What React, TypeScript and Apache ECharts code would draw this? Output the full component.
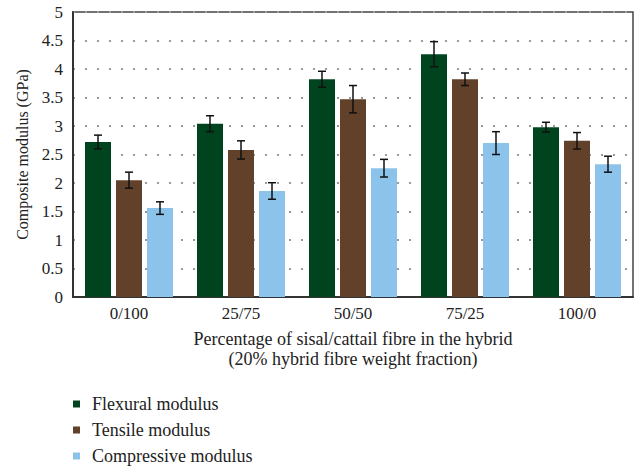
import React, { useEffect, useRef } from "react";
import * as echarts from "echarts";

const categories = ["0/100", "25/75", "50/50", "75/25", "100/0"];
const seriesNames = ["Flexural modulus", "Tensile modulus", "Compressive modulus"];
const flexural = [2.72, 3.04, 3.82, 4.26, 2.98];
const flexuralErr = [0.12, 0.14, 0.14, 0.22, 0.085];
const tensile = [2.05, 2.58, 3.47, 3.82, 2.74];
const tensileErr = [0.14, 0.16, 0.24, 0.11, 0.145];
const compressive = [1.56, 1.86, 2.26, 2.7, 2.33];
const compressiveErr = [0.11, 0.145, 0.155, 0.2, 0.14];
const colors = ["#00441f", "#62412a", "#8bc3ea"];
const xAxisTitle = ["Percentage of sisal/cattail fibre in the hybrid", "(20% hybrid fibre weight fraction)"];
const yAxisTitle = "Composite modulus (GPa)";

const FONT = "'Liberation Serif', 'DejaVu Serif', serif";
const BAR_W = 26;
const BAR_GAP = 5;

export default function App() {
  const ref = useRef<HTMLDivElement>(null);
  useEffect(() => {
    document.body.style.margin = "0";
    const chart = echarts.init(ref.current!, null, { renderer: "svg" });
    const values = [flexural, tensile, compressive];
    const errs = [flexuralErr, tensileErr, compressiveErr];
    const barSeries = values.map((vals, i) => ({
      name: seriesNames[i],
      type: "bar",
      data: vals,
      barWidth: BAR_W,
      barGap: (BAR_GAP / BAR_W) * 100 + "%",
      itemStyle: { color: colors[i] },
      z: 2,
    }));
    const errSeries = values.map((vals, i) => ({
      type: "custom",
      z: 5,
      silent: true,
      data: vals.map((v, j) => [j, v, errs[i][j]]),
      renderItem: (params: any, api: any) => {
        const idx = api.value(0);
        const v = api.value(1);
        const e = api.value(2);
        const off = (i - 1) * (BAR_W + BAR_GAP);
        const x = api.coord([idx, v])[0] + off;
        const yt = api.coord([idx, v + e])[1];
        const yb = api.coord([idx, v - e])[1];
        const style = { stroke: "#111", lineWidth: 1.5 };
        return {
          type: "group",
          children: [
            { type: "line", shape: { x1: x, y1: yt, x2: x, y2: yb }, style },
            { type: "line", shape: { x1: x - 4, y1: yt, x2: x + 4, y2: yt }, style },
            { type: "line", shape: { x1: x - 4, y1: yb, x2: x + 4, y2: yb }, style },
          ],
        };
      },
    }));
    chart.setOption({
      animation: false,
      textStyle: { fontFamily: FONT },
      grid: {
        left: 73,
        right: 3,
        top: 12,
        bottom: 171,
        show: true,
        borderColor: "#444",
        borderWidth: 1.5,
        backgroundColor: "transparent",
      },
      legend: {
        orient: "vertical",
        left: 73,
        top: 395,
        height: 120,
        padding: 0,
        icon: "rect",
        itemWidth: 7,
        itemHeight: 7,
        itemGap: 8,
        data: seriesNames,
        textStyle: {
          fontFamily: FONT,
          fontSize: 18,
          color: "#222",
          padding: [0, 0, 0, 7],
        },
      },
      xAxis: {
        type: "category",
        data: categories,
        axisLine: { show: true, lineStyle: { color: "#333", width: 2 } },
        axisTick: { show: false },
        axisLabel: { fontFamily: FONT, fontSize: 17, color: "#222", margin: 8 },
      },
      yAxis: {
        type: "value",
        min: 0,
        max: 5,
        interval: 0.5,
        name: yAxisTitle,
        nameLocation: "middle",
        nameGap: 43,
        nameTextStyle: { fontFamily: FONT, fontSize: 16, color: "#222" },
        axisLine: { show: true, lineStyle: { color: "#333", width: 2 } },
        axisTick: { show: false },
        axisLabel: { fontFamily: FONT, fontSize: 17, color: "#222", margin: 10 },
        splitLine: {
          show: true,
          lineStyle: { color: "#999", width: 2, type: [2, 10] },
        },
      },
      graphic: [
        {
          type: "text",
          x: 353,
          y: 329,
          style: {
            text: xAxisTitle.join("\n"),
            fontFamily: FONT,
            fontSize: 18,
            lineHeight: 20,
            fill: "#222",
            align: "center",
            verticalAlign: "top",
          },
        },
      ],
      series: [...barSeries, ...errSeries],
    });
    return () => chart.dispose();
  }, []);
  return <div ref={ref} style={{ width: 636, height: 468 }} />;
}
